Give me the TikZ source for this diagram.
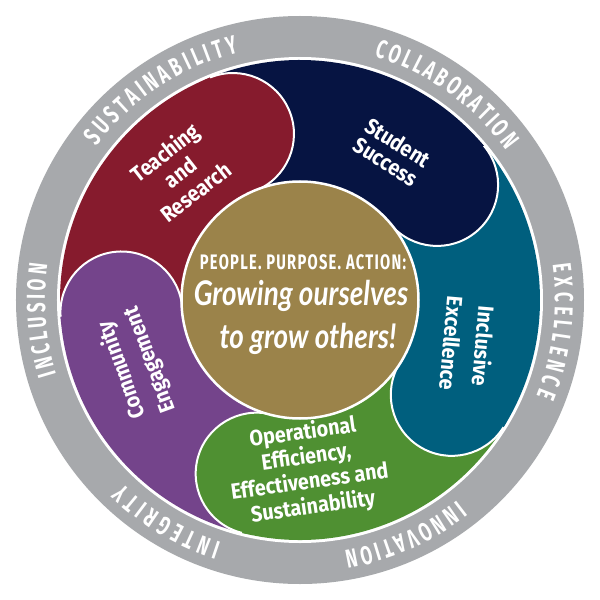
\documentclass[tikz,border=0pt]{standalone}
\usepackage{fontspec}
\usetikzlibrary{decorations.text}
\newfontfamily\ringfont[FakeStretch=0.66]{Fira Sans}
\newfontfamily\lobefont[FakeStretch=0.9]{Fira Sans}
\newfontfamily\capsfont[FakeStretch=0.7,LetterSpace=6]{Fira Sans}
\newfontfamily\brushfont[FakeStretch=0.82]{Lato}
\definecolor{ringgray}{HTML}{A7A9AC}
\definecolor{cmaroon}{HTML}{861B2D}
\definecolor{cnavy}{HTML}{061442}
\definecolor{cteal}{HTML}{005F7E}
\definecolor{cgreen}{HTML}{4F9032}
\definecolor{cpurple}{HTML}{74448B}
\definecolor{cgold}{HTML}{9B834A}
\tikzset{
  lobetext/.style={text=white, align=center, inner sep=0pt,
    font=\lobefont\bfseries\fontsize{22}{25}\selectfont},
  ringword/.style={decorate, decoration={text along path, text align=fit to path,
    text={|\ringfont\bfseries\fontsize{26}{26}\selectfont\color{white}|#1}}},
  capline/.style={text=white, inner sep=0pt, anchor=base,
    font=\capsfont\bfseries\fontsize{21}{21}\selectfont},
  brushline/.style={text=white, inner sep=0pt, anchor=base,
    font=\brushfont\bfseries\itshape\fontsize{34}{34}\selectfont},
  capedge/.style={white, line width=2pt}
}
\begin{document}
\begin{tikzpicture}[x=1pt,y=1pt]
\useasboundingbox (-300,-300) rectangle (300,300);
\fill[white] (-300,-300) rectangle (300,300);
% outer ring
\fill[ringgray] (0,0) circle[radius=284];
\fill[white] (0,0) circle[radius=243];
% bands
\foreach \a/\c in {112/cmaroon,184/cpurple,256/cgreen,328/cteal,40/cnavy}{
  \fill[\c] (\a:118) -- (\a:240) arc[start angle=\a, end angle=\a+72, radius=240]
    -- ({\a+72}:118) arc[start angle=\a+72, end angle=\a, radius=118] -- cycle;
}
% heads
\foreach \a/\c in {112/cmaroon,184/cpurple,256/cgreen,328/cteal,40/cnavy}{
  \fill[\c] (\a:179) circle[radius=61];
  \draw[capedge] (\a:240) arc[start angle=\a, end angle=\a-180, radius=61];
}
% centre disc
\draw[white, line width=2.5pt, fill=cgold] (0,0) circle[radius=118.5];
% ring words
\path[ringword=SUSTAINABILITY] (143:255) arc[start angle=143, end angle=104, radius=255];
\path[ringword=COLLABORATION] (73:255) arc[start angle=73, end angle=36, radius=255];
\path[ringword=EXCELLENCE] (8:255) arc[start angle=8, end angle=-22, radius=255];
\path[ringword=INNOVATION] (-52:255) arc[start angle=-52, end angle=-80, radius=255];
\path[ringword=INTEGRITY] (-108:255) arc[start angle=-108, end angle=-134, radius=255];
\path[ringword=INCLUSION] (197:255) arc[start angle=197, end angle=172, radius=255];
% lobe texts
\node[lobetext, rotate=38] (teach) at (-120,128) {Teaching\\and\\Research};
\node[lobetext, rotate=-32, font=\lobefont\bfseries\fontsize{22}{23}\selectfont] (student) at (92,148) {Student\\Success};
\node[lobetext, rotate=-95, font=\lobefont\bfseries\fontsize{22}{32}\selectfont] (incl) at (168,-45) {Inclusive\\Excellence};
\node[lobetext, rotate=110, font=\lobefont\bfseries\fontsize{22}{30}\selectfont] (comm) at (-164,-65) {Community\\Engagement};
\node[lobetext, rotate=8] (oper) at (8,-170) {Operational\\Efficiency,\\Effectiveness and\\Sustainability};
% centre text
\node[capline] (motto) at (3,31) {PEOPLE. PURPOSE. ACTION:};
\node[brushline] (grow1) at (1,-5) {Growing ourselves};
\node[brushline] (grow2) at (8,-48) {to grow others!};
\end{tikzpicture}
\end{document}
